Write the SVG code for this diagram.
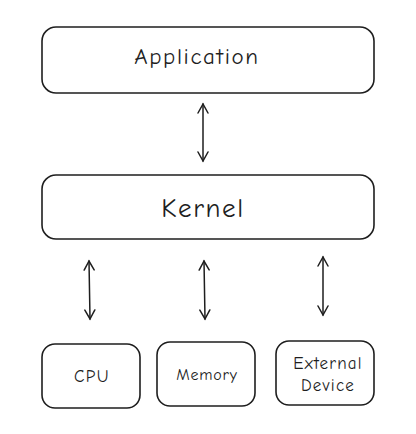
<svg xmlns="http://www.w3.org/2000/svg" width="416" height="434" viewBox="0 0 416 434">
<style>
.box{fill:#fff;stroke:#1e1e1e;stroke-width:1.6}
.lbl{font-family:"Comic Neue","Liberation Sans",sans-serif;fill:#1e1e1e;text-anchor:middle}
.con{stroke:#1e1e1e;stroke-width:1.5;fill:none;stroke-linecap:round}
</style>
<defs>
<marker id="ah" viewBox="0 0 12 12" refX="10" refY="6" markerWidth="12" markerHeight="12" markerUnits="userSpaceOnUse" orient="auto-start-reverse">
<path d="M1,1 L10,6 L1,11" fill="none" stroke="#1e1e1e" stroke-width="1.5" stroke-linecap="round"/>
</marker>
</defs>
<rect width="416" height="434" fill="#fff"/>
<g id="application"><rect class="box" x="42" y="27" width="332" height="66" rx="14"/><text class="lbl" x="197" y="64" font-size="23" letter-spacing="1.6">Application</text></g>
<g id="kernel"><rect class="box" x="42" y="175" width="332" height="64" rx="14"/><text class="lbl" x="203" y="217" font-size="27" letter-spacing="1.6">Kernel</text></g>
<g id="cpu"><rect class="box" x="42" y="344" width="98" height="64" rx="13"/><text class="lbl" x="92" y="382" font-size="17" letter-spacing="1.5">CPU</text></g>
<g id="memory"><rect class="box" x="157" y="342" width="98" height="64" rx="13"/><text class="lbl" x="207" y="380" font-size="16" letter-spacing="0.8">Memory</text></g>
<g id="external"><rect class="box" x="276" y="341" width="98" height="64" rx="13"/><text class="lbl" x="328" y="369" font-size="17" letter-spacing="1.2">External</text><text class="lbl" x="328" y="391" font-size="17" letter-spacing="1.2">Device</text></g>
<g id="connectors">
<line class="con" x1="203" y1="104" x2="203" y2="161" marker-start="url(#ah)" marker-end="url(#ah)"/>
<line class="con" x1="89" y1="261" x2="90" y2="319" marker-start="url(#ah)" marker-end="url(#ah)"/>
<line class="con" x1="204" y1="261" x2="205" y2="319" marker-start="url(#ah)" marker-end="url(#ah)"/>
<line class="con" x1="323" y1="257" x2="323" y2="315" marker-start="url(#ah)" marker-end="url(#ah)"/>
</g>
</svg>
